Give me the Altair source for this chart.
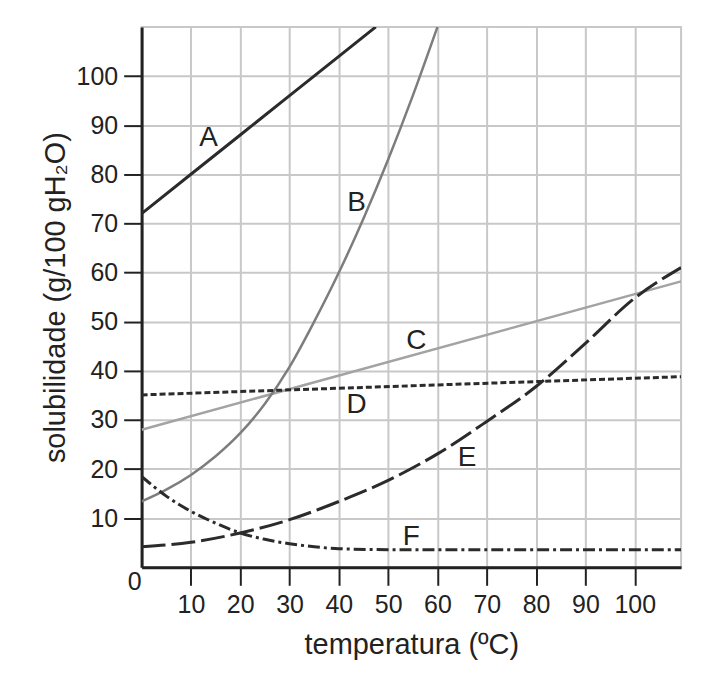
import altair as alt
import pandas as pd

# ---- data ----
temp_A = [0, 10, 20, 30, 40, 47.5]
sol_A = [72, 80, 88, 96, 104, 110]

temp_B = [0, 5, 10, 15, 20, 25, 30, 35, 40, 45, 50, 55, 60]
sol_B = [13.4, 15.8, 18.8, 22.6, 27.3, 33.3, 40.8, 50, 60, 71, 83, 96, 110]

temp_C = [0, 109.4]
sol_C = [28, 58.2]

temp_D = [0, 109.4]
sol_D = [35.1, 38.8]

temp_E = [0, 10, 20, 30, 40, 50, 60, 70, 80, 90, 100, 109.4]
sol_E = [4.2, 5.1, 7, 9.7, 13.4, 17.7, 23.1, 29.7, 36.8, 45.6, 54.8, 61]

temp_F = [0, 5, 10, 15, 20, 25, 30, 35, 40, 50, 60, 70, 80, 90, 100, 109.4]
sol_F = [18.5, 14.5, 11.4, 9, 7, 5.7, 4.8, 4.2, 3.8, 3.6, 3.6, 3.6, 3.6, 3.6, 3.6, 3.6]

label_names = ["A", "B", "C", "D", "E", "F"]
label_x = [13.6, 43.6, 55.7, 43.6, 66, 54.7]
label_y = [87.3, 74.1, 46.1, 33, 22.3, 6.2]

tick_values = [10, 20, 30, 40, 50, 60, 70, 80, 90, 100]

FONT = "Liberation Sans"
DARK = "#222222"

x_enc = alt.X(
    "t:Q",
    scale=alt.Scale(domain=[0, 109.4], nice=False, zero=False),
    axis=alt.Axis(
        values=tick_values,
        title="temperatura (ºC)",
        tickSize=18, tickWidth=2, tickColor=DARK,
        domainColor=DARK, domainWidth=3,
        gridColor="#c8c8c8", gridWidth=2,
        labelFont=FONT, labelFontSize=25, labelColor=DARK, labelPadding=7,
        titleFont=FONT, titleFontSize=29, titleFontWeight="normal",
        titleColor=DARK, titlePadding=13,
    ),
)
y_enc = alt.Y(
    "s:Q",
    scale=alt.Scale(domain=[0, 110], nice=False, zero=False),
    axis=alt.Axis(
        values=tick_values,
        title="solubilidade (g/100 gH₂O)",
        tickSize=18, tickWidth=2, tickColor=DARK,
        domainColor=DARK, domainWidth=3,
        gridColor="#c8c8c8", gridWidth=2,
        labelFont=FONT, labelFontSize=25, labelColor=DARK, labelPadding=6,
        titleFont=FONT, titleFontSize=29, titleFontWeight="normal",
        titleColor=DARK, titlePadding=6,
    ),
)


def series(xs, ys, color, width, dash=None, interp="monotone"):
    df = pd.DataFrame({"t": xs, "s": ys})
    kw = dict(color=color, strokeWidth=width, clip=True, interpolate=interp)
    if dash:
        kw["strokeDash"] = dash
    return alt.Chart(df).mark_line(**kw).encode(x=x_enc, y=y_enc)


layers = [
    series(temp_C, sol_C, "#a3a3a3", 2.5, interp="linear"),
    series(temp_B, sol_B, "#7d7d7d", 2.5),
    series(temp_D, sol_D, "#2b2b2b", 3, dash=[6, 3], interp="linear"),
    series(temp_E, sol_E, "#2b2b2b", 3, dash=[24, 6]),
    series(temp_F, sol_F, "#2b2b2b", 3, dash=[12, 4, 3, 4]),
    series(temp_A, sol_A, "#2b2b2b", 3, interp="linear"),
]

labels_df = pd.DataFrame({"t": label_x, "s": label_y, "name": label_names})
labels = alt.Chart(labels_df).mark_text(
    font=FONT, fontSize=28, color=DARK, align="center", baseline="middle"
).encode(x=x_enc, y=y_enc, text="name:N")

zero_df = pd.DataFrame({"t": [0], "s": [0], "name": ["0"]})
zero = alt.Chart(zero_df).mark_text(
    font=FONT, fontSize=25, color=DARK, align="center", baseline="middle", dx=-7, dy=15
).encode(x=x_enc, y=y_enc, text="name:N")

chart = alt.layer(*layers, labels, zero).properties(
    width=541,
    height=542,
    autosize=alt.AutoSizeParams(type="none"),
    padding={"left": 134, "top": 18, "right": 20, "bottom": 100},
    background="white",
).configure_view(stroke="#c8c8c8", strokeWidth=2)

chart.save("out.html", embed_options={"renderer": "svg", "actions": False})
